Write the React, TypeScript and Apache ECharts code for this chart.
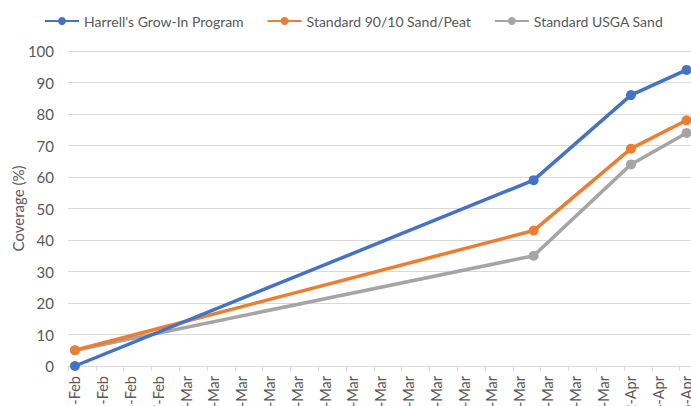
import React, { useEffect, useRef } from "react";
import * as echarts from "echarts";

const startDate = "2019-02-21";
const endDate = "2019-04-06";
const measureDates = ["2019-02-21", "2019-03-26", "2019-04-02", "2019-04-06"];
const seriesNames = ["Harrell's Grow-In Program", "Standard 90/10 Sand/Peat", "Standard USGA Sand"];
const harrells = [0, 59, 86, 94];
const sandPeat = [5, 43, 69, 78];
const usgaSand = [5, 35, 64, 74];
const colors = ["#4472C4", "#ED7D31", "#A5A5A5"];
const yTicks = [0, 10, 20, 30, 40, 50, 60, 70, 80, 90, 100];
const monthNames = ["Jan", "Feb", "Mar", "Apr", "May", "Jun", "Jul", "Aug", "Sep", "Oct", "Nov", "Dec"];

const DAY = 86400000;
const toUtc = (s: string) => {
  const [y, m, d] = s.split("-").map(Number);
  return Date.UTC(y, m - 1, d);
};
const dayIndex = (s: string) => Math.round((toUtc(s) - toUtc(startDate)) / DAY);
const totalDays = dayIndex(endDate) + 1;
const fmtDay = (i: number) => {
  const dt = new Date(toUtc(startDate) + i * DAY);
  return `${dt.getUTCDate()}-${monthNames[dt.getUTCMonth()]}`;
};
const dayCategories = Array.from({ length: totalDays }, (_, i) => fmtDay(i));

const FONT = "Lato, 'Noto Sans', sans-serif";
const TXT = "#595959";

export default function App() {
  const ref = useRef<HTMLDivElement>(null);
  useEffect(() => {
    document.body.style.margin = "0";
    const chart = echarts.init(ref.current!, null, { renderer: "svg" });
    const allSeries = [harrells, sandPeat, usgaSand];
    chart.setOption({
      animation: false,
      textStyle: { fontFamily: FONT },
      legend: {
        left: 39,
        top: 9,
        width: 650,
        itemWidth: 34,
        itemHeight: 10,
        itemGap: 23,
        textStyle: { color: TXT, fontSize: 14, fontFamily: FONT },
        data: seriesNames,
      },
      grid: { left: 68, top: 51, bottom: 40, right: -2.5, outerBoundsMode: "none", containLabel: false },
      xAxis: {
        type: "category",
        data: dayCategories,
        boundaryGap: true,
        axisLine: { show: true, lineStyle: { color: "#D9D9D9", width: 1 } },
        axisTick: { show: true, interval: 1, length: 5, lineStyle: { color: "#D9D9D9" } },
        splitLine: { show: false },
        axisLabel: {
          interval: 1,
          rotate: 90,
          margin: 10,
          color: TXT,
          fontSize: 14.5,
          fontFamily: FONT,
        },
      },
      yAxis: {
        type: "value",
        min: yTicks[0],
        max: yTicks[yTicks.length - 1],
        interval: 10,
        name: "Coverage (%)",
        nameLocation: "middle",
        nameGap: 43,
        nameMoveOverlap: false,
        nameTextStyle: { color: TXT, fontSize: 15, fontFamily: FONT },
        axisLine: { show: false },
        axisTick: { show: false },
        axisLabel: { color: TXT, fontSize: 15, margin: 14, fontFamily: FONT },
        splitLine: { lineStyle: { color: "#D9D9D9", width: 1 } },
      },
      series: allSeries.map((vals, si) => ({
        name: seriesNames[si],
        type: "line",
        data: measureDates.map((d, i) => [dayIndex(d), vals[i]]),
        symbol: "circle",
        symbolSize: 10,
        showAllSymbol: true,
        color: colors[si],
        lineStyle: { width: 3.5, color: colors[si] },
        itemStyle: { color: colors[si] },
        z: 5 - si,
      })),
    });
    return () => chart.dispose();
  }, []);
  return <div ref={ref} style={{ width: 691, height: 406 }} />;
}
